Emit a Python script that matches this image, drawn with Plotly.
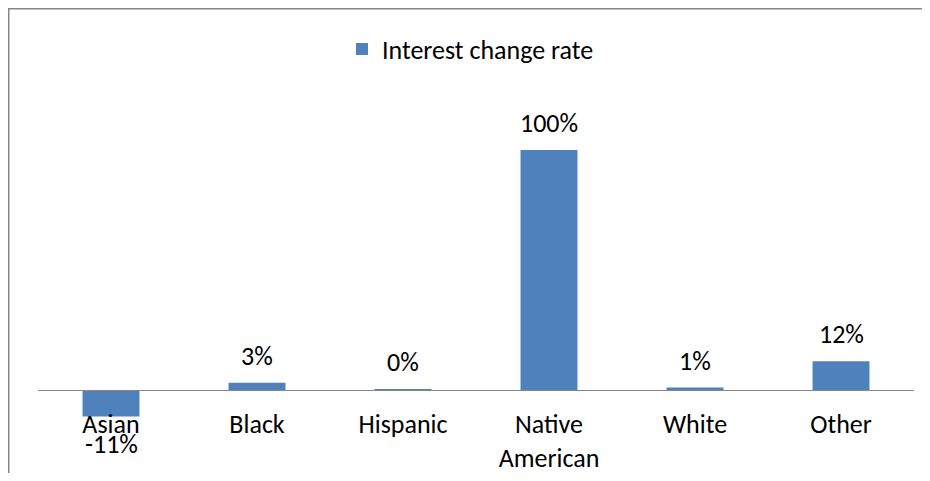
import plotly.graph_objects as go

categories = ["Asian", "Black", "Hispanic", "Native<br>American", "White", "Other"]
values = [-0.11, 0.03, 0.003, 1.00, 0.01, 0.12]
series_name = "Interest change rate"

BAR = "#4F81BD"
GRAY = "#868686"
FONT = "Calibri, Carlito, Lato, sans-serif"
FS = 26

# page body margin (8px) shifts the figure; size it to fit the window
W, H = 914, 465
ML, MR, MT, MB = 30, 8, 82, 23
y_lo, y_hi = -0.25, 1.25
plot_w = W - ML - MR
plot_h = H - MT - MB
zero_pos = (0 - y_lo) / (y_hi - y_lo)

fig = go.Figure()
fig.add_trace(go.Bar(
    x=categories, y=values, name=series_name,
    marker=dict(color=BAR, line=dict(width=0)),
    showlegend=True,
))

# data labels
for c, v in zip(categories, values):
    lab = f"{round(v * 100)}%"
    if v >= 0:
        fig.add_annotation(x=c, y=v, text=lab, showarrow=False,
                           yanchor="bottom", yshift=9,
                           font=dict(family=FONT, size=FS, color="#000000"))
    else:
        fig.add_annotation(x=c, y=v, text=lab, showarrow=False,
                           yanchor="top", yshift=-10,
                           font=dict(family=FONT, size=FS, color="#000000"))

# chart frame (right and bottom edges lie outside the picture)
fig.add_shape(type="rect", xref="paper", yref="paper",
              x0=(0.75 - ML) / plot_w, x1=1.2,
              y0=-0.5, y1=(H - MB - 0.75) / plot_h,
              line=dict(color=GRAY, width=1.5), fillcolor="rgba(0,0,0,0)",
              layer="below")

fig.update_layout(
    width=W, height=H,
    margin=dict(l=ML, r=MR, t=MT, b=MB, autoexpand=False),
    paper_bgcolor="white", plot_bgcolor="white",
    font=dict(family=FONT, size=FS, color="#000000"),
    bargap=0.61,
    legend=dict(orientation="h", x=(334 - ML) / plot_w, xanchor="left",
                y=(H - MB - 41) / plot_h, yanchor="middle",
                font=dict(family=FONT, size=FS, color="#000000"),
                bgcolor="rgba(0,0,0,0)"),
    xaxis=dict(anchor="free", position=zero_pos, showline=True,
               linecolor=GRAY, linewidth=1, ticks="", showgrid=False,
               automargin=False,
               ticklabelstandoff=11, tickfont=dict(family=FONT, size=FS)),
    yaxis=dict(range=[y_lo, y_hi], visible=False, showgrid=False,
               zeroline=False, automargin=False),
)

fig.write_html("out.html")
